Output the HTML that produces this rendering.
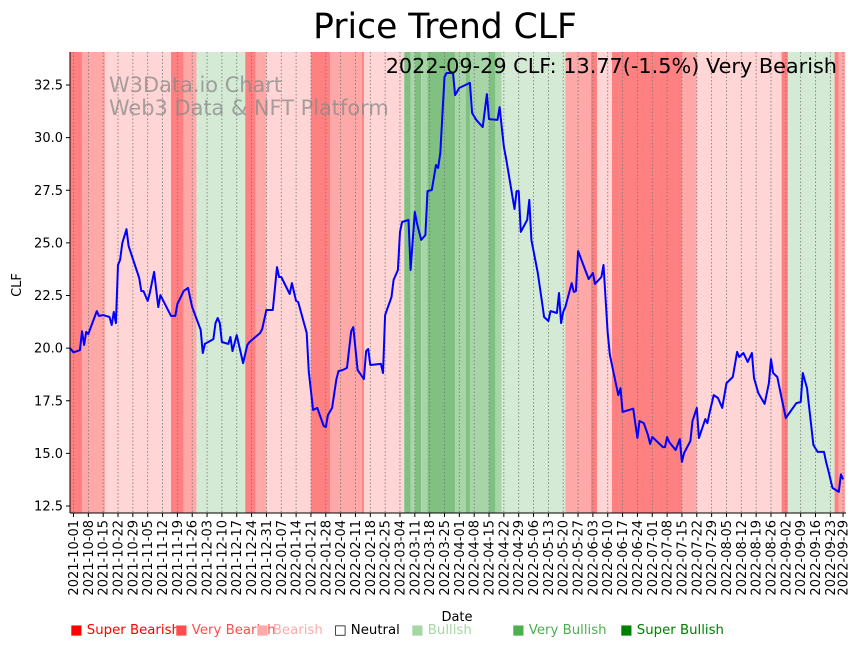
<!DOCTYPE html>
<html><head><meta charset="utf-8"><style>
body{margin:0;background:#fff;}
svg{display:block;font-family:"DejaVu Sans","Liberation Sans",sans-serif;}
</style></head><body>
<svg id="chart" width="864" height="646" xmlns="http://www.w3.org/2000/svg">
<g id="bands"></g>
<g id="grid"></g>
<g id="watermark">
<text x="109" y="92" font-size="20.9" fill="#888" fill-opacity="0.75">W3Data.io Chart</text>
<text x="109" y="115" font-size="20.9" fill="#888" fill-opacity="0.75">Web3 Data &amp; NFT Platform</text>
</g>
<g id="line"></g>
<g id="axes"></g>
<text x="445" y="38" font-size="34.5" text-anchor="middle">Price Trend CLF</text>
<text x="837" y="73" font-size="20.8" text-anchor="end">2022-09-29 CLF: 13.77(-1.5%) Very Bearish</text>
<text transform="translate(21,285) rotate(-90)" font-size="13" text-anchor="middle">CLF</text>
<text x="457" y="621" font-size="13" text-anchor="middle">Date</text>
<g font-size="13.3">
<text x="70" y="634" fill="#ff0000">■ Super Bearish</text>
<text x="175" y="634" fill="#ff4d4d">■ Very Bearish</text>
<text x="256" y="634" fill="#ffaaaa">■ Bearish</text>
<text x="334" y="634" fill="#000">□ Neutral</text>
<text x="411" y="634" fill="#a5d6a5">■ Bullish</text>
<text x="512" y="634" fill="#4caf50">■ Very Bullish</text>
<text x="620" y="634" fill="#008000">■ Super Bullish</text>
</g>
</svg>
<script>
const startDate = "2021-10-01";
const priceDays = [-2,0,3,4,5,6,7,11,12,14,17,18,19,20,21,22,23,25,26,31,32,33,35,36,38,40,41,46,48,49,52,54,56,60,61,62,66,67,68,69,70,73,74,75,77,80,82,83,88,89,91,94,96,97,98,102,103,105,106,110,111,113,115,118,119,120,122,124,125,127,129,131,132,134,137,138,139,140,145,146,147,150,151,153,154,155,158,159,161,162,164,166,167,169,171,172,173,175,176,179,180,182,187,188,190,193,195,196,200,201,203,204,206,208,209,210,211,214,215,216,219,221,222,224,225,228,229,230,231,232,235,236,237,238,243,245,246,249,250,252,253,257,258,259,264,266,267,269,271,272,273,278,279,280,281,284,286,287,288,291,292,294,295,298,299,300,302,304,306,308,311,313,314,316,318,320,321,323,326,328,329,330,332,334,336,341,343,344,346,349,351,354,355,356,358,361,362,363];
const priceValues = [20.0,19.8,19.9,20.8,20.15,20.77,20.67,21.76,21.53,21.57,21.48,21.1,21.72,21.19,23.95,24.19,24.99,25.65,24.85,23.33,22.71,22.71,22.24,22.62,23.62,21.95,22.52,21.53,21.53,22.1,22.71,22.86,21.95,20.86,19.77,20.2,20.43,21.19,21.43,21.19,20.29,20.2,20.53,19.86,20.62,19.29,20.15,20.29,20.72,20.91,21.81,21.81,23.85,23.38,23.38,22.57,23.09,22.24,22.19,20.72,18.87,17.06,17.16,16.3,16.25,16.82,17.16,18.53,18.91,18.96,19.06,20.81,21.0,18.96,18.53,19.86,19.96,19.2,19.25,18.82,21.57,22.43,23.24,23.71,25.52,25.99,26.09,23.71,26.47,25.94,25.14,25.37,27.46,27.51,28.7,28.56,29.27,32.88,33.07,33.07,32.02,32.36,32.6,31.17,30.84,30.5,32.07,30.88,30.84,31.45,29.55,29.03,27.84,26.61,27.46,27.46,25.52,26.09,27.04,25.14,23.57,22.19,21.48,21.29,21.76,21.67,22.62,21.19,21.72,21.95,23.09,22.67,22.71,24.61,23.28,23.57,23.05,23.38,23.95,20.72,19.67,17.77,18.1,16.97,17.12,15.73,16.54,16.44,15.87,15.45,15.78,15.3,15.3,15.78,15.54,15.16,15.68,14.59,15.02,15.59,16.54,17.16,15.73,16.63,16.44,16.92,17.77,17.63,17.16,18.34,18.63,19.82,19.58,19.77,19.34,19.77,18.58,17.87,17.35,18.34,19.48,18.82,18.63,17.63,16.68,17.39,17.44,18.82,18.1,15.4,15.07,15.07,14.59,14.21,13.36,13.17,14.0,13.77];
const bandStarts = [-2,4,15,46,52,58,81,86,91,112,121,136,137,156,159,161,164,167,180,185,187,196,199,202,232,244,247,254,287,294,334,337,359,361];
const bandCats = ["SB","VB","B","SB","VB","Bu","SB","VB","B","SB","VB","SB","B","SBu","VBu","SBu","VBu","SBu","VBu","SBu","VBu","SBu","VBu","Bu","VB","SB","B","SB","VB","B","SB","Bu","SB","VB"];
const bandEnd = 364;
const yTicks = [12.5,15.0,17.5,20.0,22.5,25.0,27.5,30.0,32.5];
const xTickCount = 52;
const lastTickDay = 363;

const NS="http://www.w3.org/2000/svg";
const L=70,R=846,T=52,B=513;
const bandColor={SB:"#ff8080",VB:"#ffa8a8",B:"#ffd5d5",Bu:"#d4ead4",VBu:"#a8d5a8",SBu:"#80c080"};
function xs(d){return 73.5+d*2.12;}
function ys(v){return 506-(v-12.5)*21.05;}
function mk(tag,attrs,parent){const e=document.createElementNS(NS,tag);for(const k in attrs)e.setAttribute(k,attrs[k]);parent.appendChild(e);return e;}
function fmt(d){const t=new Date(Date.UTC(2021,9,1)+d*86400000);return t.toISOString().slice(0,10);}

const gb=document.getElementById('bands');
for(let i=0;i<bandStarts.length;i++){
  const x1=Math.max(L,xs(bandStarts[i]));const x2=Math.min(R,xs(i+1<bandStarts.length?bandStarts[i+1]:bandEnd));
  const r=mk('rect',{x:x1,y:T,width:Math.max(0,x2-x1),height:B-T,fill:bandColor[bandCats[i]]},gb);
  
  
}
const gg=document.getElementById('grid');const ga=document.getElementById('axes');
const tickDays=[];for(let i=0;i<xTickCount;i++)tickDays.push(i*7);tickDays.push(lastTickDay);
tickDays.forEach(d=>{
  const x=xs(d);
  const g=mk('line',{x1:x,x2:x,y1:T,y2:B,stroke:"#777","stroke-width":0.8,"stroke-dasharray":"1.5,2"},gg);
  
  
  const t=mk('line',{x1:x,x2:x,y1:B,y2:B+4,stroke:"#000","stroke-width":1},ga);
  
  
  const lb=mk('text',{transform:`translate(${x+4.5},${B+7}) rotate(-90)`,"font-size":13,"text-anchor":"end"},ga);
  lb.textContent=fmt(d);
  
  
});
yTicks.forEach(v=>{
  const y=ys(v);
  const t=mk('line',{x1:L-4,x2:L,y1:y,y2:y,stroke:"#000","stroke-width":1},ga);
  
  
  const lb=mk('text',{x:L-7,y:y+4.5,"font-size":13,"text-anchor":"end"},ga);
  lb.textContent=v.toFixed(1);
  
  
});
const la=mk('line',{x1:L,x2:L,y1:T,y2:B,stroke:"#000","stroke-width":1},ga);


const lbx=mk('line',{x1:L,x2:R,y1:B,y2:B,stroke:"#000","stroke-width":1},ga);



const gl=document.getElementById('line');
let dstr="";
priceDays.forEach((d,i)=>{dstr+=(i?"L":"M")+Math.max(L,xs(d)).toFixed(1)+","+ys(priceValues[i]).toFixed(1);});
const p=mk('path',{d:dstr,fill:"none",stroke:"#0000ff","stroke-width":2,"stroke-linejoin":"round"},gl);


</script>
</body></html>
